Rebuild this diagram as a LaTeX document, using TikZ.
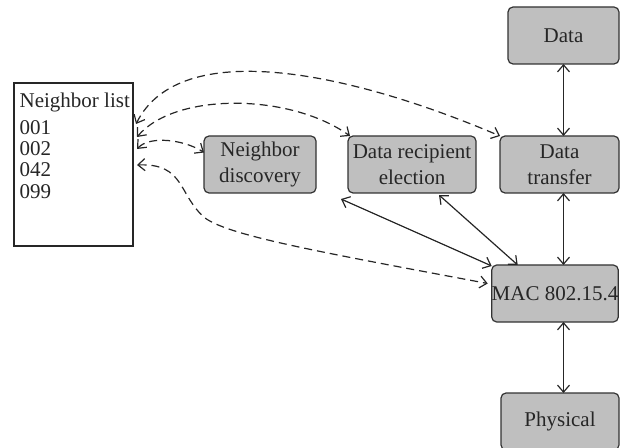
\documentclass[tikz,border=0pt]{standalone}
\usepackage{fontspec}
\setmainfont{Liberation Serif}
\usetikzlibrary{positioning,arrows.meta}

\begin{document}
\begin{tikzpicture}[x=0.5pt,y=-0.5pt,>={Straight Barb[length=3.5pt,width=6pt]},line width=0.6pt,
	layer/.style={draw=black!80,fill=black!25,rounded corners=2.5pt,minimum height=28.5pt,inner sep=1pt,outer sep=0pt,align=center,font=\fontsize{10.5}{13}\selectfont,text=black!85},
	link/.style={<->,black!85},
	hint/.style={<->,black!85,dash pattern=on 4pt off 2.5pt}]
		
		\useasboundingbox (0,0) rectangle (620,448);
		
		\node[layer,minimum width=55.5pt] (data)                    at (563.5,35.5) {Data};
		\node[layer,minimum width=59.5pt] (xfer) [below=36pt of data,xshift=-2pt]    {Data\\transfer};
		\node[layer,minimum width=63pt,inner xsep=0pt] (mac) [below=36pt of xfer,xshift=-2.25pt] {MAC 802.15.4};
		\node[layer,minimum width=59pt]   (phy)  [below=35.5pt of mac,xshift=2.5pt] {Physical};
		\node[layer,minimum width=64pt]   (dre)  [left=12pt of xfer]   {Data recipient\\election};
		\node[layer,minimum width=56pt]   (nd)   [left=16pt of dre]    {Neighbor\\discovery};
		\node[draw=black!85,fill=white,minimum width=59.5pt,minimum height=81.5pt,inner sep=0pt,outer sep=0pt] (nlist) [left=35.5pt of nd] {};
		\node[anchor=north west,align=left,inner sep=0pt,font=\fontsize{10.5}{10.7}\selectfont,text=black!85] (items) at ([shift={(5,9)}]nlist.north west) {Neighbor list\\[2.8pt]001\\002\\042\\099};
		
		\draw[link] (data.south) -- (data.south |- xfer.north);
		\draw[link] (data.south |- xfer.south) -- (data.south |- mac.north);
		\draw[link] (data.south |- mac.south) -- (data.south |- phy.north);
		\draw[link] ([shift={(-7,6)}]dre.south west) -- ([shift={(0,1)}]mac.north west);
		\draw[link] ([shift={(-37,2)}]dre.south east) -- ([shift={(26,0)}]mac.north west);
		
		\draw[hint] ([shift={(3,41)}]nlist.north east) .. controls (180,36) and (350,72) .. (xfer.north west);
		\draw[hint] ([shift={(4,54)}]nlist.north east) .. controls (175,92) and (290,93) .. ([shift={(2,0)}]dre.north west);
		\draw[hint] ([shift={(4,66)}]nlist.north east) .. controls (150,135) and (185,140) .. ([shift={(0,-12)}]nd.west);
		\draw[hint] ([shift={(4,82)}]nlist.north east) .. controls (185,163) and (178,195) .. (205,218) .. controls (230,236) and (320,252) .. ([shift={(-4,-10)}]mac.west);
		
\end{tikzpicture}
\end{document}
